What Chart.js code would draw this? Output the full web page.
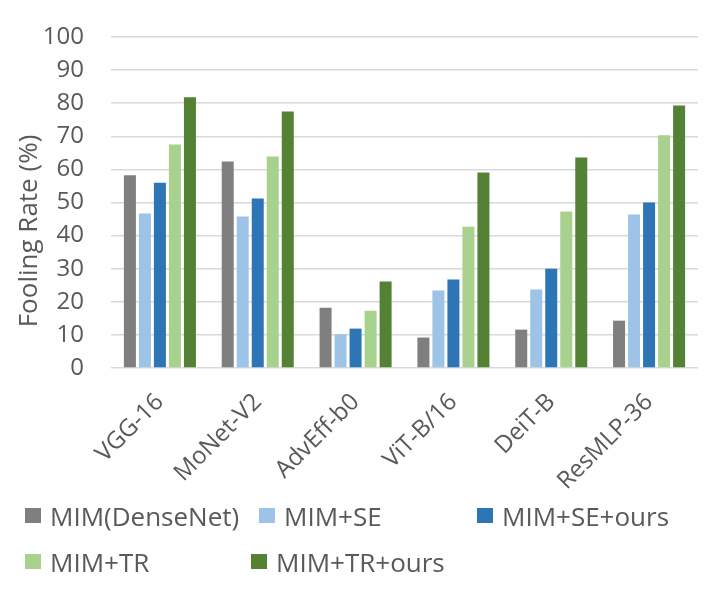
<!DOCTYPE html>
<html>
<head>
<meta charset="utf-8">
<script src="https://cdn.jsdelivr.net/npm/chart.js@4/dist/chart.umd.min.js"></script>
<style>
  html, body { margin: 0; padding: 0; background: #fff; }
  #wrap { position: relative; width: 710px; height: 591px; }
  #c { position: absolute; left: 0; top: 0; }
  .lg { position: absolute; font-family: 'Open Sans', sans-serif; font-size: 26px; color: #595959; white-space: nowrap; line-height: 30px; height: 30px; }
  .lg span.sw { position: absolute; left: 0; top: 7px; width: 16px; height: 15px; }
  .lg span.tx { position: absolute; left: 25px; top: 0; }
</style>
</head>
<body>
<div id="wrap">
  <canvas id="c" width="710" height="591"></canvas>
</div>
<script>
const categories = ['VGG-16', 'MoNet-V2', 'AdvEff-b0', 'ViT-B/16', 'DeiT-B', 'ResMLP-36'];
const seriesNames = ['MIM(DenseNet)', 'MIM+SE', 'MIM+SE+ours', 'MIM+TR', 'MIM+TR+ours'];
const mimDenseNet = [58.2, 62.4, 18.2, 9.2, 11.6, 14.3];
const mimSE = [46.7, 45.8, 10.2, 23.4, 23.7, 46.4];
const mimSEours = [56.0, 51.2, 11.9, 26.7, 30.0, 50.0];
const mimTR = [67.5, 63.9, 17.3, 42.7, 47.3, 70.3];
const mimTRours = [81.8, 77.5, 26.1, 59.1, 63.6, 79.3];
const yTickValues = [0, 10, 20, 30, 40, 50, 60, 70, 80, 90, 100];
const yTitle = 'Fooling Rate (%)';

const colors = ['#7f7f7f', '#9dc3e6', '#2e75b6', '#a9d18e', '#548235'];
const seriesData = [mimDenseNet, mimSE, mimSEours, mimTR, mimTRours];
const textColor = '#595959';

const yTitlePlugin = {
  id: 'yTitlePlugin',
  afterDraw(chart) {
    const ctx = chart.ctx;
    ctx.save();
    ctx.translate(30, 231);
    ctx.rotate(-Math.PI / 2);
    ctx.font = '26px "Open Sans"';
    ctx.fillStyle = textColor;
    ctx.textAlign = 'center';
    ctx.textBaseline = 'middle';
    ctx.fillText(yTitle, 0, 0);
    ctx.restore();
  }
};

new Chart(document.getElementById('c'), {
  type: 'bar',
  data: {
    labels: categories,
    datasets: seriesData.map((d, i) => ({
      label: seriesNames[i],
      data: d,
      backgroundColor: colors[i],
      borderWidth: 0,
      categoryPercentage: 0.767,
      barPercentage: 0.8
    }))
  },
  options: {
    responsive: false,
    animation: false,
    devicePixelRatio: 1,
    layout: { padding: { top: 37, right: 12, left: 0, bottom: 0 } },
    plugins: { legend: { display: false }, tooltip: { enabled: false } },
    scales: {
      x: {
        grid: { display: false },
        border: { display: false },
        afterFit(s) { s.height = 223; },
        ticks: {
          autoSkip: false,
          minRotation: 45,
          maxRotation: 45,
          padding: 12,
          color: textColor,
          font: { family: '"Open Sans"', size: 24 }
        }
      },
      y: {
        min: 0,
        max: 100,
        afterBuildTicks(s) { s.ticks = yTickValues.map(v => ({ value: v })); },
        afterFit(s) { s.width = 111; s.paddingTop = 10; s.paddingBottom = 0; },
        grid: { color: '#d9d9d9', lineWidth: 1.5, drawTicks: false },
        border: { display: false },
        ticks: {
          padding: 27,
          color: textColor,
          font: { family: '"Open Sans"', size: 24 }
        }
      }
    }
  },
  plugins: [yTitlePlugin]
});

// Legend (HTML), built from series names and colours
const legendPos = [[25, 501], [259, 501], [477, 501], [25, 547], [251, 547]];
const wrap = document.getElementById('wrap');
seriesNames.forEach((name, i) => {
  const d = document.createElement('div');
  d.className = 'lg';
  d.style.left = legendPos[i][0] + 'px';
  d.style.top = legendPos[i][1] + 'px';
  const sw = document.createElement('span');
  sw.className = 'sw';
  sw.style.background = colors[i];
  const tx = document.createElement('span');
  tx.className = 'tx';
  tx.textContent = name;
  d.appendChild(sw);
  d.appendChild(tx);
  wrap.appendChild(d);
});
</script>
</body>
</html>
